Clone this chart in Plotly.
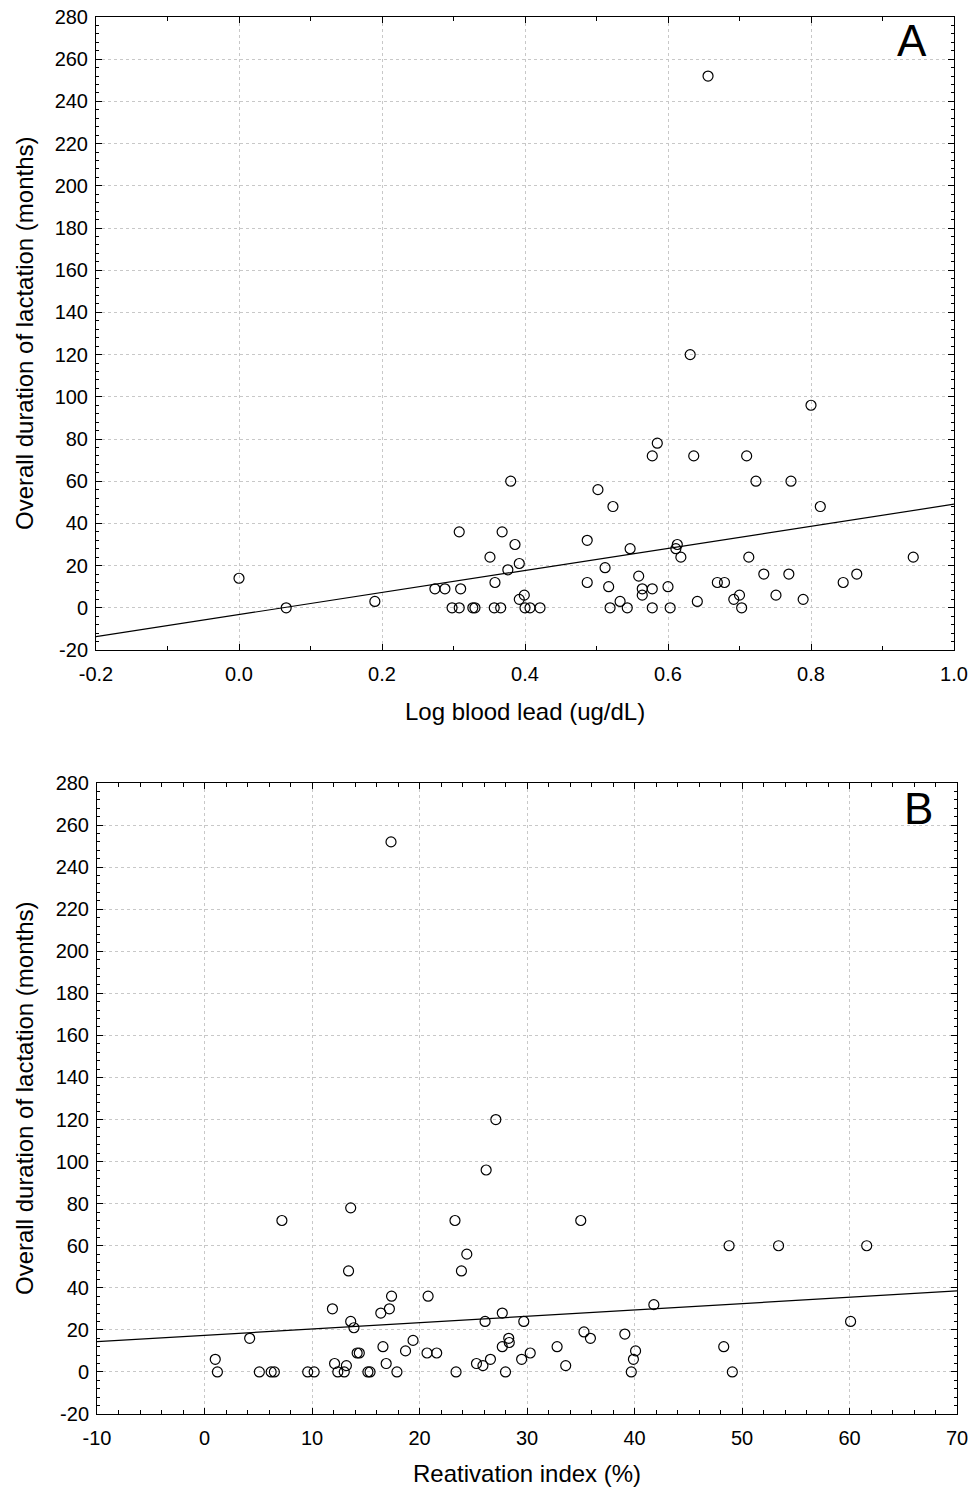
import plotly.graph_objects as go

# Panel A: log blood lead vs overall duration of lactation
a_x = [0.00, 0.066, 0.19, 0.274, 0.288, 0.298, 0.308, 0.308, 0.31, 0.327, 0.33, 0.351, 0.358,
       0.357, 0.366, 0.368, 0.376, 0.380, 0.386, 0.392, 0.392, 0.399, 0.400, 0.407, 0.421,
       0.487, 0.487, 0.502, 0.512, 0.517, 0.519, 0.523, 0.533, 0.543, 0.547, 0.559, 0.564,
       0.564, 0.578, 0.578, 0.578, 0.585, 0.600, 0.603, 0.611, 0.613, 0.618, 0.631, 0.636,
       0.641, 0.656, 0.669, 0.679, 0.692, 0.700, 0.703, 0.710, 0.713, 0.723, 0.734, 0.751,
       0.769, 0.772, 0.789, 0.800, 0.813, 0.845, 0.864, 0.943]
a_y = [14, 0, 3, 9, 9, 0, 0, 36, 9, 0, 0, 24, 12,
       0, 0, 36, 18, 60, 30, 21, 4, 6, 0, 0, 0,
       32, 12, 56, 19, 10, 0, 48, 3, 0, 28, 15, 9,
       6, 72, 9, 0, 78, 10, 0, 28, 30, 24, 120, 72,
       3, 252, 12, 12, 4, 6, 0, 72, 24, 60, 16, 6,
       16, 60, 4, 96, 48, 12, 16, 24]

# Panel B: reactivation index vs overall duration of lactation
b_x = [1.0, 1.2, 4.2, 5.1, 6.2, 6.5, 7.2, 9.6, 10.2, 11.9, 12.1, 12.4, 13.2, 13.0, 13.4,
       13.6, 13.6, 13.9, 14.2, 14.4, 15.2, 15.4, 16.4, 16.6, 16.9, 17.2, 17.4, 17.35, 17.9,
       18.7, 19.4, 20.8, 20.7, 21.6, 23.3, 23.4, 23.9, 24.4, 25.3, 25.9, 26.1, 26.2, 26.6,
       27.1, 27.7, 27.7, 28.0, 28.3, 28.35, 29.5, 29.7, 30.3, 32.8, 33.6, 35.0, 35.3, 35.9,
       39.1, 39.7, 39.9, 40.1, 41.8, 48.3, 48.8, 49.1, 53.4, 60.1, 61.6]
b_y = [6, 0, 16, 0, 0, 0, 72, 0, 0, 30, 4, 0, 3, 0, 48,
       78, 24, 21, 9, 9, 0, 0, 28, 12, 4, 30, 36, 252, 0,
       10, 15, 36, 9, 9, 72, 0, 48, 56, 4, 3, 24, 96, 6,
       120, 28, 12, 0, 16, 14, 6, 24, 9, 12, 3, 72, 19, 16,
       18, 0, 6, 10, 32, 12, 60, 0, 60, 24, 60]

# Fitted regression lines
a_fit_intercept, a_fit_slope = -3.2, 52.3
b_fit_intercept, b_fit_slope = 17.4, 0.302

a_xrange = [-0.2, 1.0]
b_xrange = [-10, 70]
y_range = [-20, 280]

a_xticks = [-0.2, 0.0, 0.2, 0.4, 0.6, 0.8, 1.0]
a_xticklabels = ["-0.2", "0.0", "0.2", "0.4", "0.6", "0.8", "1.0"]
b_xticks = [-10, 0, 10, 20, 30, 40, 50, 60, 70]
b_xticklabels = ["-10", "0", "10", "20", "30", "40", "50", "60", "70"]
y_ticks = list(range(-20, 281, 20))
y_ticklabels = [str(v) for v in y_ticks]

FONT = "Liberation Sans, Arial, sans-serif"
W, H = 975, 1492

fig = go.Figure()

marker = dict(symbol="circle-open", size=10, color="black", line=dict(width=1.2, color="black"))

fig.add_trace(go.Scatter(x=a_x, y=a_y, mode="markers", marker=marker, xaxis="x", yaxis="y",
                         showlegend=False))
fig.add_trace(go.Scatter(x=a_xrange,
                         y=[a_fit_intercept + a_fit_slope * v for v in a_xrange],
                         mode="lines", line=dict(color="black", width=1.2),
                         xaxis="x", yaxis="y", showlegend=False))
fig.add_trace(go.Scatter(x=b_x, y=b_y, mode="markers", marker=marker, xaxis="x2", yaxis="y2",
                         showlegend=False))
fig.add_trace(go.Scatter(x=b_xrange,
                         y=[b_fit_intercept + b_fit_slope * v for v in b_xrange],
                         mode="lines", line=dict(color="black", width=1.2),
                         xaxis="x2", yaxis="y2", showlegend=False))

a_dom_x = [96 / W, 954 / W]
b_dom_x = [97 / W, 957 / W]
a_dom_y = [1 - 650 / H, 1 - 17 / H]
b_dom_y = [1 - 1414 / H, 1 - 783 / H]

common = dict(showline=True, linecolor="black", linewidth=1, mirror="ticks",
              ticks="inside", ticklen=6, tickcolor="black", tickwidth=1,
              showgrid=True, gridcolor="#c8c8c8", griddash="dot", gridwidth=1,
              zeroline=False, tickfont=dict(family=FONT, size=20, color="black"),
              automargin=False)

fig.update_layout(
    width=W, height=H,
    margin=dict(l=0, r=0, t=0, b=0),
    paper_bgcolor="white", plot_bgcolor="white",
    xaxis=dict(domain=a_dom_x, range=a_xrange, anchor="y", tickvals=a_xticks,
               ticktext=a_xticklabels, ticklabelstandoff=6,
               minor=dict(dtick=0.1, ticks="inside", ticklen=4, tickcolor="black", showgrid=False),
               **common),
    yaxis=dict(domain=a_dom_y, range=y_range, anchor="x", tickvals=y_ticks,
               ticktext=y_ticklabels, ticklabelstandoff=3,
               minor=dict(dtick=4, ticks="inside", ticklen=3, tickcolor="black", showgrid=False),
               **common),
    xaxis2=dict(domain=b_dom_x, range=b_xrange, anchor="y2", tickvals=b_xticks,
                ticktext=b_xticklabels, ticklabelstandoff=6,
                minor=dict(dtick=2, ticks="inside", ticklen=4, tickcolor="black", showgrid=False),
                **common),
    yaxis2=dict(domain=b_dom_y, range=y_range, anchor="x2", tickvals=y_ticks,
                ticktext=y_ticklabels, ticklabelstandoff=3,
                minor=dict(dtick=4, ticks="inside", ticklen=3, tickcolor="black", showgrid=False),
                **common),
)

title_font = dict(family=FONT, size=24, color="black")
ytitle = "Overall duration of lactation (months)"
annotations = [
    dict(text="Log blood lead (ug/dL)", x=525 / W, y=1 - 711 / H, xref="paper", yref="paper",
         showarrow=False, font=title_font, xanchor="center", yanchor="middle"),
    dict(text=ytitle, x=24 / W, y=1 - 333 / H, xref="paper", yref="paper", textangle=-90,
         showarrow=False, font=title_font, xanchor="center", yanchor="middle"),
    dict(text="Reativation index (%)", x=527 / W, y=1 - 1473 / H, xref="paper", yref="paper",
         showarrow=False, font=title_font, xanchor="center", yanchor="middle"),
    dict(text=ytitle, x=24 / W, y=1 - 1098 / H, xref="paper", yref="paper", textangle=-90,
         showarrow=False, font=title_font, xanchor="center", yanchor="middle"),
    dict(text="A", x=912 / W, y=1 - 40 / H, xref="paper", yref="paper",
         showarrow=False, font=dict(family=FONT, size=44, color="black"),
         xanchor="center", yanchor="middle"),
    dict(text="B", x=918 / W, y=1 - 808 / H, xref="paper", yref="paper",
         showarrow=False, font=dict(family=FONT, size=44, color="black"),
         xanchor="center", yanchor="middle"),
]
fig.update_layout(annotations=annotations)

fig.write_html("out.html", config={"displayModeBar": False},
               post_script="document.body.style.margin='0';document.body.style.overflow='hidden';")
